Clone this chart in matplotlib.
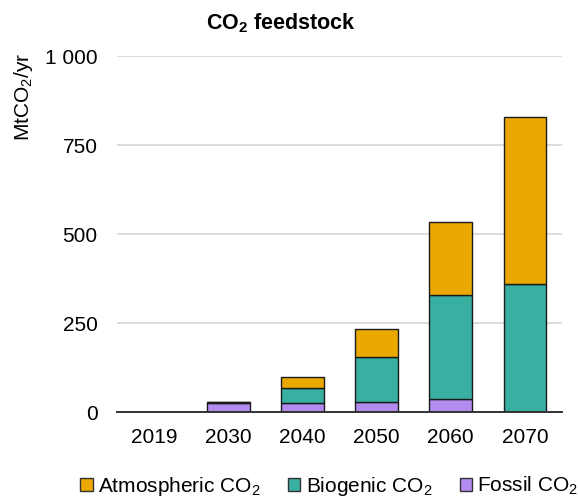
import numpy as np
import matplotlib
matplotlib.use("Agg")
import matplotlib.pyplot as plt
from matplotlib.patches import Patch
from matplotlib.ticker import FuncFormatter

# fonts
plt.rcParams["font.family"] = "Liberation Sans"
plt.rcParams["mathtext.default"] = "regular"

# data (MtCO2/yr)
years = ["2019", "2030", "2040", "2050", "2060", "2070"]
fossil = [0, 26, 26, 29, 36, 0]
biogenic = [0, 2, 42, 126, 293, 360]
atmospheric = [0, 0, 31, 80, 205, 468]

col_atm = "#EAA800"
col_bio = "#38AFA1"
col_fos = "#B48CF0"

fig = plt.figure(figsize=(5.78, 5.0), dpi=100)
ax = fig.add_axes([0.2024, 0.1754, 0.7699, 0.7126])

x = np.arange(len(years))
w = 0.575
fossil = np.array(fossil)
biogenic = np.array(biogenic)
atmospheric = np.array(atmospheric)

kw = dict(width=w, edgecolor="#1a1a1a", linewidth=1.0, zorder=3)
ax.bar(x, fossil, color=col_fos, **kw)
ax.bar(x, biogenic, bottom=fossil, color=col_bio, **kw)
ax.bar(x, atmospheric, bottom=fossil + biogenic, color=col_atm, **kw)

ax.set_xlim(-0.5, 5.5)
ax.set_ylim(0, 1000)
ax.set_yticks([0, 250, 500, 750, 1000])
ax.yaxis.set_major_formatter(FuncFormatter(lambda v, p: "{:,.0f}".format(v).replace(",", " ")))
ax.set_xticks(x)
ax.set_xticklabels(years)
ax.tick_params(axis="y", length=0, pad=14, labelsize=15)
ax.tick_params(axis="x", length=0, pad=11, labelsize=15)
ax.grid(axis="y", color="#D9D9D9", linewidth=1.3, zorder=0)
ax.set_axisbelow(True)
for s in ["left", "right", "top"]:
    ax.spines[s].set_visible(False)
ax.spines["bottom"].set_color("#333333")
ax.spines["bottom"].set_linewidth(1.4)
ax.spines["bottom"].set_zorder(4)

fig.text(0.486, 0.953, r"CO$_2$ feedstock", ha="center", va="center",
         fontsize=15.5, fontweight="bold")
fig.text(0.040, 0.806, r"MtCO$_2$/yr", ha="center", va="center",
         rotation=90, fontsize=15)

handles = [Patch(facecolor=col_atm, edgecolor="#333333", label=r"Atmospheric CO$_2$"),
           Patch(facecolor=col_bio, edgecolor="#333333", label=r"Biogenic CO$_2$"),
           Patch(facecolor=col_fos, edgecolor="#333333", label=r"Fossil CO$_2$")]
fig.legend(handles=handles, loc="center", bbox_to_anchor=(0.57, 0.027), ncol=3,
           frameon=False, fontsize=15, handlelength=0.6, handleheight=0.6,
           handletextpad=0.25, columnspacing=1.3, borderaxespad=0)

plt.savefig("out.png", dpi=100)
